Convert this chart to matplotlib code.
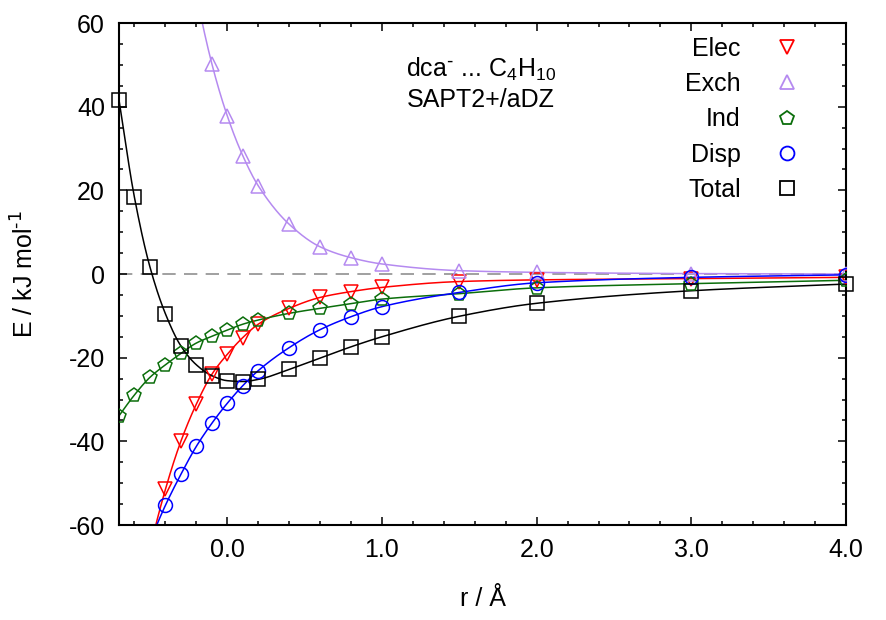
import numpy as np
import matplotlib
matplotlib.use("Agg")
import matplotlib.pyplot as plt
from matplotlib.lines import Line2D
from matplotlib.ticker import MultipleLocator, FormatStrFormatter

plt.rcParams['font.family'] = ['Liberation Sans', 'DejaVu Sans']
plt.rcParams['mathtext.default'] = 'regular'
plt.rcParams['axes.unicode_minus'] = False

# distance r / Angstrom
r = [-0.7, -0.6, -0.5, -0.4, -0.3, -0.2, -0.1, 0.0, 0.1, 0.2, 0.4, 0.6, 0.8, 1.0, 1.5, 2.0, 3.0, 4.0]

# SAPT2+ components, kJ/mol (values beyond the plot window are rough estimates)
elec = [-112, -86, -66, -51.5, -40.0, -31.1, -24.0, -19.2, -15.2, -12.0, -8.2, -5.6, -4.2, -3.2, -1.8, -1.4, -1.1, -0.8]
exch = [280, 210, 158, 118, 89, 67, 50.3, 37.8, 28.3, 21.1, 11.9, 6.5, 3.9, 2.4, 0.8, 0.4, 0.1, 0.0]
ind = [-33.9, -28.9, -24.7, -21.7, -19.0, -16.5, -14.9, -13.4, -12.0, -11.0, -9.4, -8.2, -7.1, -6.0, -4.7, -3.3, -2.3, -1.5]
disp = [-86, -74, -64, -55.3, -47.9, -41.2, -35.7, -30.9, -26.7, -23.1, -17.6, -13.3, -10.2, -7.8, -4.4, -2.1, -0.8, -0.2]
total = [41.6, 18.3, 1.7, -9.5, -17.2, -21.7, -24.3, -25.5, -25.7, -25.2, -22.8, -20.1, -17.4, -15.0, -10.1, -7.0, -4.0, -2.4]

labels = ['Elec', 'Exch', 'Ind', 'Disp', 'Total']
colors = ['#ff0000', '#b58af0', '#0b6e0b', '#0000ff', '#000000']
markers = ['v', '^', 'p', 'o', 's']
msizes = [10.5, 10.5, 10, 10, 9.5]


def pchip(x, y, xs):
    # monotone cubic interpolation, just for drawing smooth lines
    x = np.asarray(x, float)
    y = np.asarray(y, float)
    h = np.diff(x)
    d = np.diff(y) / h
    n = len(x)
    m = np.zeros(n)
    for k in range(1, n - 1):
        if d[k - 1] * d[k] > 0:
            w1 = 2 * h[k] + h[k - 1]
            w2 = h[k] + 2 * h[k - 1]
            m[k] = (w1 + w2) / (w1 / d[k - 1] + w2 / d[k])
    m[0] = d[0]
    m[-1] = d[-1]
    idx = np.clip(np.searchsorted(x, xs) - 1, 0, n - 2)
    t = (xs - x[idx]) / h[idx]
    h00 = 2 * t**3 - 3 * t**2 + 1
    h10 = t**3 - 2 * t**2 + t
    h01 = -2 * t**3 + 3 * t**2
    h11 = t**3 - t**2
    return h00 * y[idx] + h10 * h[idx] * m[idx] + h01 * y[idx + 1] + h11 * h[idx] * m[idx + 1]


fig = plt.figure(figsize=(8.86, 6.2), dpi=100)
ax = fig.add_axes([0.1343, 0.1532, 0.8206, 0.8097])

ax.axhline(0, color='#909090', lw=1.2, dashes=(8, 5), zorder=1)

xs = np.linspace(r[0], r[-1], 800)
handles = []
for lab, vals, c, mk, ms in zip(labels, [elec, exch, ind, disp, total], colors, markers, msizes):
    ax.plot(xs, pchip(r, vals, xs), color=c, lw=1.1, zorder=2)
    ax.plot(r, vals, linestyle='none', marker=mk, ms=ms,
            mfc='none', mec=c, mew=1.1, zorder=3, clip_on=(lab != 'Total'))
    handles.append(Line2D([], [], linestyle='none', marker=mk, ms=ms,
                          mfc='none', mec=c, mew=1.3, label=lab))

ax.set_xlim(-0.7, 4.0)
ax.set_ylim(-60, 60)
ax.xaxis.set_major_locator(MultipleLocator(1.0))
ax.xaxis.set_minor_locator(MultipleLocator(0.2))
ax.xaxis.set_major_formatter(FormatStrFormatter('%.1f'))
ax.yaxis.set_major_locator(MultipleLocator(20))
ax.yaxis.set_minor_locator(MultipleLocator(5))
ax.tick_params(which='both', direction='in', top=True, right=True, labelsize=18, width=1.1)
ax.tick_params(axis='y', which='major', length=6, pad=10)
ax.tick_params(axis='x', which='major', length=6, pad=9)
ax.tick_params(which='minor', length=3)
for s in ax.spines.values():
    s.set_linewidth(1.5)

ax.set_xlabel('r / Å', fontsize=18, labelpad=18)
ax.set_ylabel(r'E / kJ mol$^{\text{-1}}$', fontsize=18, labelpad=22)

ax.text(1.64, 48.8, r'dca$^{\text{-}}$ ... C$_4$H$_{10}$', fontsize=18, ha='center', va='center')
ax.text(1.64, 41.6, 'SAPT2+/aDZ', fontsize=18, ha='center', va='center')

ax.legend(handles=handles, loc='upper right', bbox_to_anchor=(0.955, 1.0), frameon=False,
          markerfirst=False, fontsize=18, handlelength=1.0, handletextpad=1.35,
          labelspacing=0.45, borderaxespad=0.15)

fig.savefig('out.png', dpi=100)
